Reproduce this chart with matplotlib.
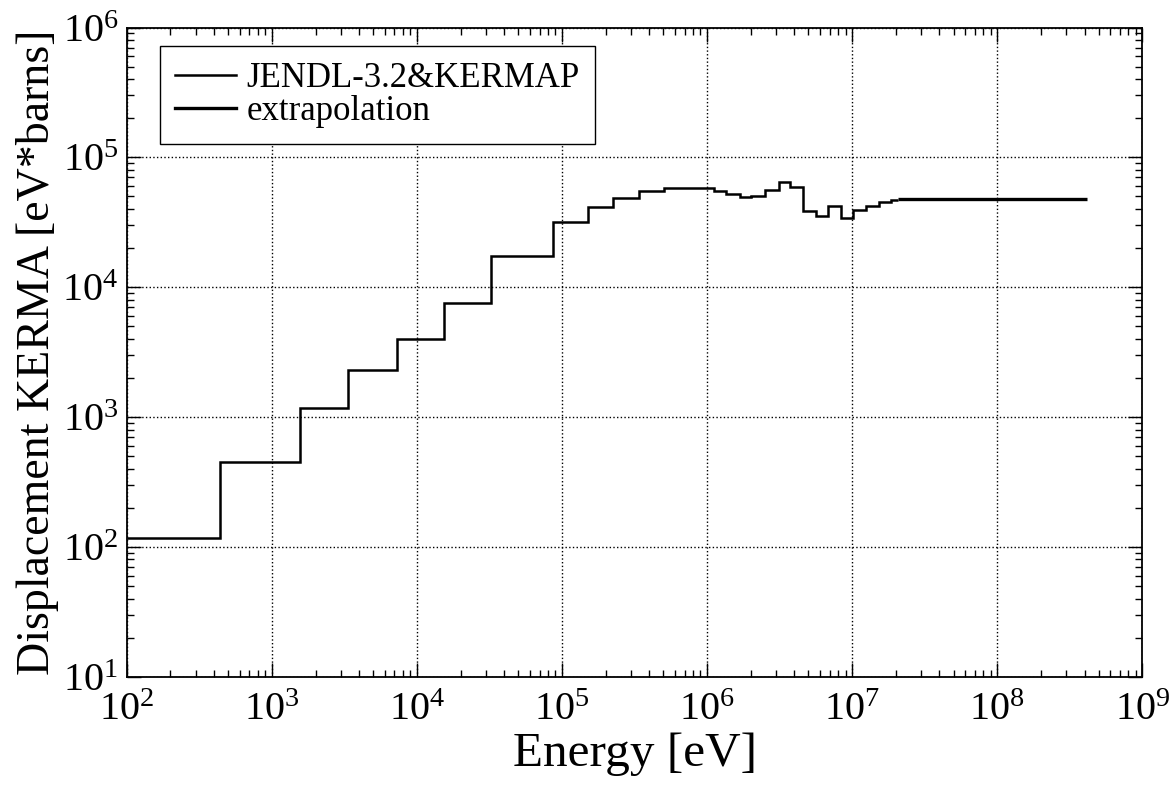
import numpy as np
import matplotlib.pyplot as plt

plt.rcParams["font.family"] = "Liberation Serif"
plt.rcParams["mathtext.fontset"] = "custom"
plt.rcParams["mathtext.rm"] = "Liberation Serif"
plt.rcParams["mathtext.it"] = "Liberation Serif:italic"

# group edges (eV) and displacement KERMA (eV*barns)
edges_jendl = [1e2, 440, 1575, 3357, 7244, 15350, 32600, 87300, 1.5e5, 2.26e5,
               3.41e5, 5.08e5, 1.12e6, 1.36e6, 1.69e6, 2.02e6, 2.49e6, 3.11e6,
               3.75e6, 4.58e6, 5.61e6, 6.82e6, 8.34e6, 1.01e7, 1.24e7, 1.53e7,
               1.84e7, 2.07e7]
kerma_jendl = [118, 453, 1178, 2300, 3980, 7570, 17300, 31800, 41500, 48600,
               54700, 58100, 54700, 52500, 49500, 50800, 55700, 64600, 59100,
               38700, 35600, 42000, 34400, 39600, 42000, 45700, 47300]

edges_extra = [2.07e7, 4.15e8]
kerma_extra = [47800]

fig = plt.figure(figsize=(11.74, 7.86), dpi=100)
ax = fig.add_axes([0.108, 0.139, 0.865, 0.826])

ax.stairs(kerma_jendl, edges_jendl, color="black", lw=1.8,
          baseline=None, label="JENDL-3.2&KERMAP")
ax.stairs(kerma_extra, edges_extra, color="black", lw=2.4,
          baseline=None, label="extrapolation")

ax.set_xscale("log")
ax.set_yscale("log")
ax.set_xlim(1e2, 1e9)
ax.set_ylim(1e1, 1e6)
ax.grid(True, which="major", linestyle=":", color="black", lw=1)

ax.tick_params(which="both", direction="in", top=True, right=True,
               labelsize=29, width=1)
ax.tick_params(which="major", length=10)
ax.tick_params(axis="x", which="major", pad=11)
ax.tick_params(axis="y", which="major", pad=6)
ax.tick_params(which="minor", length=5)
for s in ax.spines.values():
    s.set_linewidth(1.3)

ax.set_xlabel("Energy [eV]", fontsize=35.5, labelpad=2)
ax.set_ylabel("Displacement KERMA [eV*barns]", fontsize=33, labelpad=2)

leg = ax.legend(loc="upper left", bbox_to_anchor=(0.0325, 0.971),
                borderaxespad=0, fontsize=25, handlelength=1.75,
                handletextpad=0.3, fancybox=False, framealpha=1,
                edgecolor="black", borderpad=0.45, labelspacing=0.0)
leg.get_frame().set_linewidth(1)

fig.savefig("out.png", dpi=100)
